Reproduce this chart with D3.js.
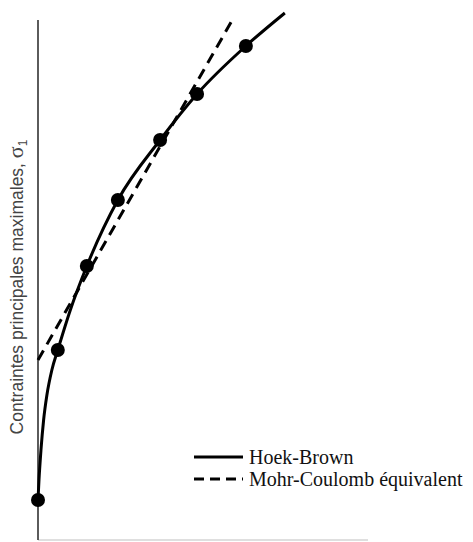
<!DOCTYPE html>
<html>
<head>
  <style>
    body {
      margin: 0;
      background: white;
    }
    .curve {
      fill: none;
      stroke: black;
      stroke-width: 3;
    }
    .mc {
      fill: none;
      stroke: black;
      stroke-width: 3;
      stroke-dasharray: 11 7;
    }
  </style>
</head>
<body>
  <div id="chart"></div>
  <script src="https://d3js.org/d3.v7.min.js"></script>
  <script>
    var width = 473, height = 542;

    // sigma3 / sigma1 test points (arbitrary units)
    var testSigma3 = [0, 0.6, 1.48, 2.42, 3.7, 4.82, 6.3];
    var testSigma1 = [2.0, 9.5, 13.7, 17.0, 20.0, 22.3, 24.7];

    // Hoek-Brown envelope
    var hbSigma3 = [0, 0.03, 0.09, 0.17, 0.27, 0.42, 0.6, 0.98, 1.48, 2.42, 3.7, 4.82, 6.3, 7.48];
    var hbSigma1 = [2.0, 3.0, 4.5, 6.0, 7.25, 8.5, 9.5, 11.5, 13.7, 17.0, 20.0, 22.3, 24.7, 26.35];

    // equivalent Mohr-Coulomb line
    var mcSigma3 = [0, 5.94];
    var mcSigma1 = [9.0, 26.15];

    var legendLabels = ["Hoek-Brown", "Mohr-Coulomb équivalent"];

    var x = d3.scaleLinear().domain([0, 10]).range([38, 368]);
    var y = d3.scaleLinear().domain([0, 26]).range([540, 20]);

    var svg = d3.select("#chart").append("svg")
        .attr("width", width)
        .attr("height", height);

    // x axis (faint line)
    svg.append("line")
        .attr("x1", x(0)).attr("x2", x(10))
        .attr("y1", y(0)).attr("y2", y(0))
        .attr("stroke", "#d4d4d4")
        .attr("stroke-width", 1.5);

    // y axis
    svg.append("line")
        .attr("x1", x(0)).attr("x2", x(0))
        .attr("y1", y(0)).attr("y2", y(26))
        .attr("stroke", "#333")
        .attr("stroke-width", 1.6);

    var label = svg.append("text")
        .attr("transform", "translate(23," + 287 + ") rotate(-90)")
        .attr("text-anchor", "middle")
        .style("font-family", "'Liberation Sans', Arial, sans-serif")
        .style("font-size", "17.5px")
        .style("fill", "#444")
        .text("Contraintes principales maximales, ");
    label.append("tspan")
        .style("font-family", "'Liberation Serif', 'DejaVu Serif', serif")
        .style("font-size", "22px")
        .text("σ");
    label.append("tspan")
        .attr("dy", 4)
        .style("font-size", "12px")
        .text("1");

    var hbData = hbSigma3.map((d, i) => [d, hbSigma1[i]]);
    var mcData = mcSigma3.map((d, i) => [d, mcSigma1[i]]);
    var pts = testSigma3.map((d, i) => [d, testSigma1[i]]);

    var line = d3.line()
        .x(d => x(d[0]))
        .y(d => y(d[1]))
        .curve(d3.curveMonotoneX);

    svg.append("path")
        .attr("class", "mc")
        .attr("d", d3.line().x(d => x(d[0])).y(d => y(d[1]))(mcData));

    svg.append("path")
        .attr("class", "curve")
        .attr("d", line(hbData));

    svg.selectAll("circle")
        .data(pts)
      .enter().append("circle")
        .attr("cx", d => x(d[0]))
        .attr("cy", d => y(d[1]))
        .attr("r", 7)
        .attr("fill", "black");

    // legend
    var legend = svg.append("g");
    legendLabels.forEach((t, i) => {
      var ly = 457 + i * 22;
      legend.append("line")
          .attr("x1", 194).attr("x2", 243)
          .attr("y1", ly).attr("y2", ly)
          .attr("stroke", "black")
          .attr("stroke-width", 3)
          .attr("stroke-dasharray", i == 1 ? "10 6" : null);
      legend.append("text")
          .attr("x", 249)
          .attr("y", ly + 7)
          .style("font-family", "'Liberation Serif', 'DejaVu Serif', 'Times New Roman', serif")
          .style("font-size", "20px")
          .style("fill", "#111")
          .text(t);
    });
  </script>
</body>
</html>
